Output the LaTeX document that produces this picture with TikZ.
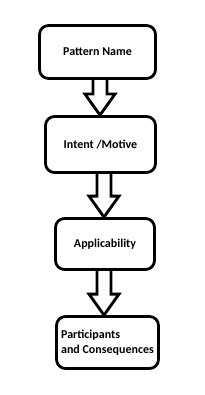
\documentclass[tikz,border=0pt]{standalone}
\usepackage{fontspec}
\setmainfont{Carlito}
\usetikzlibrary{calc}
\begin{document}
\begin{tikzpicture}[x=1pt,y=-1pt,
  box/.style={draw,line width=2.8pt,rounded corners=9pt,inner sep=0pt,
    font=\fontsize{12}{15}\selectfont\bfseries,align=left},
  bigarrow/.style={draw,line width=2.8pt,line join=miter}]
\useasboundingbox (0,0) rectangle (205,395);
\node[box,minimum width=116pt,minimum height=53pt] (a) at (97.5,52) {Pattern Name};
\node[box,minimum width=110pt,minimum height=56pt] (b) at (100.5,144.5) {Intent /Motive};
\node[box,minimum width=99pt,minimum height=51pt] (c) at (105,244) {Applicability};
\node[box,minimum width=102pt,minimum height=52pt] (d) at (107.5,342.5) {Participants\\and Consequences};
\coordinate (c1) at (100,0);
\coordinate (c2) at (104,0);
\coordinate (c3) at (104,0);
\newcommand{\fatarrow}[3]{%
  \draw[bigarrow] ([xshift=-7pt]#1.south-|#3) -- ([xshift=-7pt,yshift=21pt]#2.north-|#3)
    -- ([xshift=-15pt,yshift=21pt]#2.north-|#3) -- (#2.north-|#3)
    -- ([xshift=15pt,yshift=21pt]#2.north-|#3) -- ([xshift=7pt,yshift=21pt]#2.north-|#3)
    -- ([xshift=7pt]#1.south-|#3);}
\fatarrow{a}{b}{c1}
\fatarrow{b}{c}{c2}
\fatarrow{c}{d}{c3}
\end{tikzpicture}
\end{document}
